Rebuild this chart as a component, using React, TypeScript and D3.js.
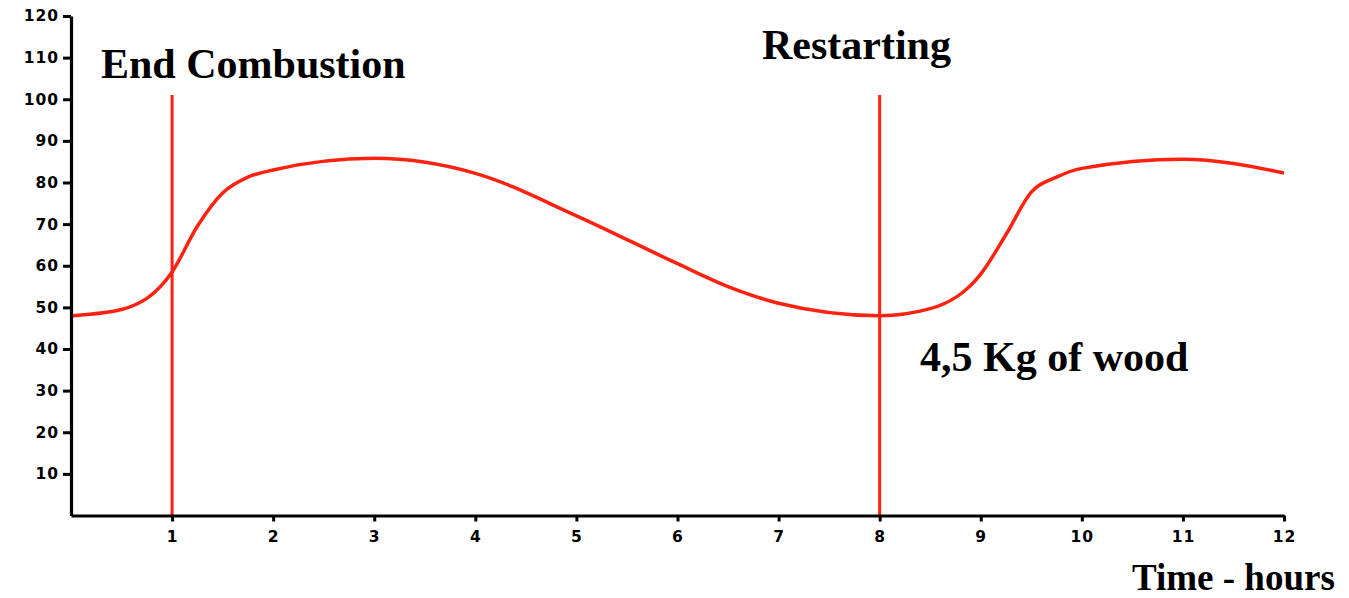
import React, { useEffect, useRef } from 'react';
import * as d3 from 'd3';

const WIDTH = 1349;
const HEIGHT = 598;

// temperature curve
const hours = [0, 0.5, 1, 1.25, 1.5, 1.75, 2, 3, 4, 5, 6, 6.5, 7, 8, 8.5, 9, 9.25, 9.5, 9.75, 10, 11, 12];
const temps = [48, 49.5, 58.5, 69.5, 77.5, 81.3, 83, 85.8, 82.2, 72, 60.5, 55, 51, 48, 49.7, 58, 67.5, 77.7, 81.3, 83.4, 85.6, 82.3];

const xTicks = [1, 2, 3, 4, 5, 6, 7, 8, 9, 10, 11, 12];
const yTicks = [10, 20, 30, 40, 50, 60, 70, 80, 90, 100, 110, 120];

// vertical markers (hours) and how high they reach
const markerHours = [1, 8];
const markerTop = 101;

const RED = '#ff2211';
const SERIF = '"Liberation Serif", "Times New Roman", serif';
const SANS = '"DejaVu Sans", Verdana, sans-serif';

const App: React.FC = () => {
  const ref = useRef<SVGSVGElement>(null);

  useEffect(() => {
    const svg = d3.select(ref.current);
    svg.selectAll('g.plot').remove();
    const root = svg.insert('g', ':first-child').attr('class', 'plot');

    const x = d3.scaleLinear().domain([0, 12]).range([71, 1284]);
    const y = d3.scaleLinear().domain([0, 120]).range([515.5, 16]);

    // markers
    root
      .append('g')
      .selectAll('line')
      .data(markerHours)
      .join('line')
      .attr('x1', (d) => x(d))
      .attr('x2', (d) => x(d))
      .attr('y1', y(markerTop))
      .attr('y2', y(0))
      .attr('stroke', RED)
      .attr('stroke-width', 3);

    const line = d3
      .line<number>()
      .x((_, i) => x(hours[i]))
      .y((d) => y(d))
      .curve(d3.curveMonotoneX);

    root
      .append('path')
      .datum(temps)
      .attr('fill', 'none')
      .attr('stroke', RED)
      .attr('stroke-width', 3.5)
      .attr('d', line);

    // axes
    const yAxis = root
      .append('g')
      .attr('transform', `translate(${x(0)},0)`)
      .call(d3.axisLeft(y).tickValues(yTicks).tickSize(8).tickSizeOuter(0).tickPadding(4));

    const xAxis = root
      .append('g')
      .attr('transform', `translate(0,${y(0)})`)
      .call(d3.axisBottom(x).tickValues(xTicks).tickSize(6).tickSizeOuter(0).tickPadding(9));

    [yAxis, xAxis].forEach((g) => {
      g.select('.domain').attr('stroke', '#000').attr('stroke-width', 3.2);
      g.selectAll('.tick line').attr('stroke', '#000').attr('stroke-width', 3);
      g.selectAll('.tick text')
        .attr('fill', '#000')
        .style('font-family', SANS)
        .style('font-weight', 'bold')
        .style('font-size', '15.5px')
        .style('letter-spacing', '1px');
    });
  }, []);

  return (
    <svg
      ref={ref}
      width={WIDTH}
      height={HEIGHT}
      style={{ position: 'absolute', left: 0, top: 0, background: '#fff' }}
    >
      <g style={{ fontFamily: SERIF, fontWeight: 'bold' }} fill="#000">
        <text x={101} y={78} fontSize={42}>End Combustion</text>
        <text x={762} y={59} fontSize={42}>Restarting</text>
        <text x={920} y={371} fontSize={42}>4,5 Kg of wood</text>
        <text x={1132} y={590} fontSize={37}>Time - hours</text>
      </g>
    </svg>
  );
};

export default App;
